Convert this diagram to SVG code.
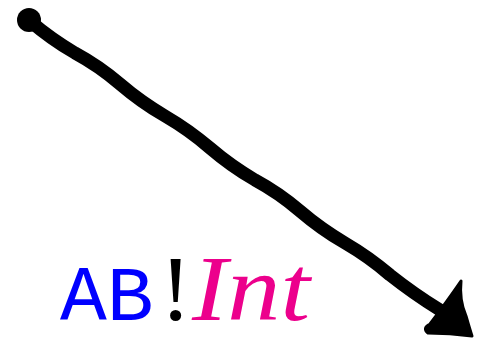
<svg xmlns="http://www.w3.org/2000/svg" width="477" height="340" viewBox="0 0 477 340">
<style>
.mono{font-family:"Liberation Mono","DejaVu Sans Mono",monospace;font-size:78px;fill:#0000ff}
.ser{font-family:"Liberation Serif","DejaVu Serif",serif;font-size:94px}
</style>
<rect width="477" height="340" fill="#fff"/>
<g id="connectors">
<circle cx="29" cy="20" r="12" fill="#000"/>
<path d="M30,21 Q51,39 75,53 Q99,66 120,84 Q141,102 165,116 Q189,130 210,148 Q231,166 255,180 Q279,193 300,211 Q321,229 345,243 Q369,257 390,275 Q414,294 440,310" fill="none" stroke="#000" stroke-width="13" stroke-linecap="round" stroke-linejoin="round"/>
<path d="M461,281 Q459,300 466,316 Q470,330 472,336 Q450,333 428,333 Q422,328 430,324 Q448,300 461,281 Z" fill="#000" stroke="#000" stroke-width="3" stroke-linejoin="round"/>
</g>
<g id="label">
<text x="60" y="320" class="mono">AB</text>
<text x="160" y="320" class="ser" fill="#000">!</text>
<text x="192" y="320" class="ser" font-style="italic" fill="#ec008c" textLength="118" lengthAdjust="spacingAndGlyphs">Int</text>
</g>
</svg>
